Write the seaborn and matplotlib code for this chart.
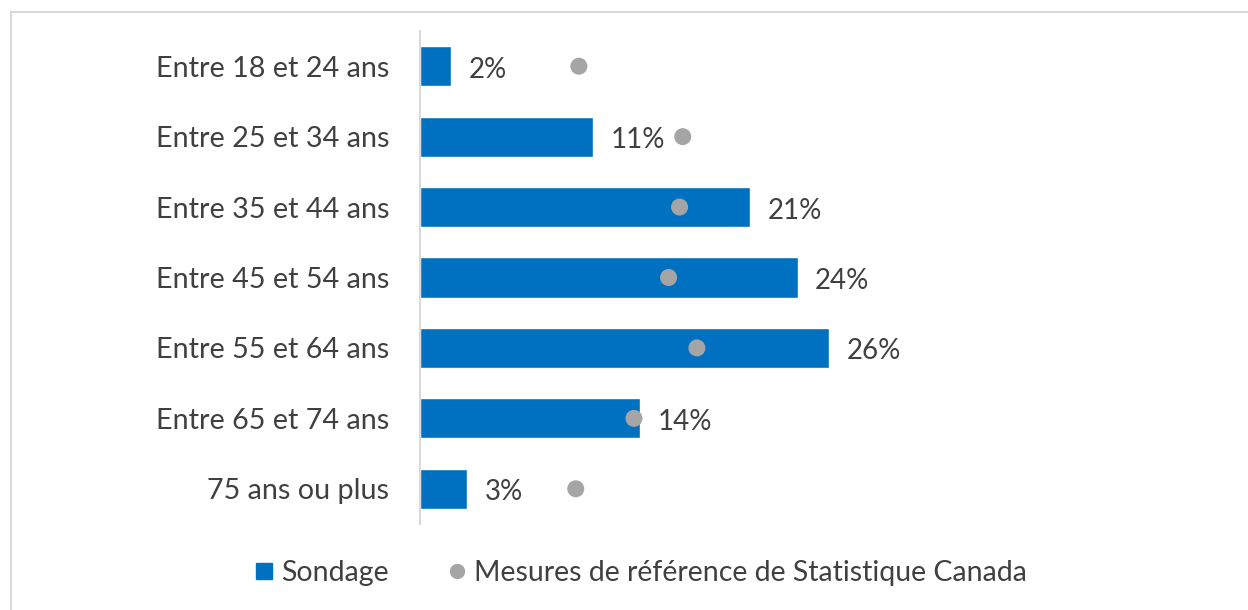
import pandas as pd
import matplotlib
matplotlib.use("Agg")
import matplotlib.pyplot as plt
from matplotlib.lines import Line2D
from matplotlib.patches import Rectangle
import seaborn as sns

# Données
groupes = ["Entre 18 et 24 ans", "Entre 25 et 34 ans", "Entre 35 et 44 ans",
           "Entre 45 et 54 ans", "Entre 55 et 64 ans", "Entre 65 et 74 ans",
           "75 ans ou plus"]
sondage = [2, 11, 21, 24, 26, 14, 3]
statcan = [10.1, 16.7, 16.5, 15.8, 17.6, 13.6, 9.9]

df = pd.DataFrame({"groupe": groupes, "sondage": sondage, "statcan": statcan})

bleu = "#0070C0"
gris = "#A5A5A5"
texte = "#404040"

sns.set_style("white")
plt.rcParams["font.family"] = ["Lato", "DejaVu Sans"]

fig = plt.figure(figsize=(12.48, 6.10), dpi=100)
ax = fig.add_axes([420 / 1248, 1 - 524 / 610, 472 / 1248, (524 - 31) / 610])

sns.barplot(data=df, y="groupe", x="sondage", orient="h", color=bleu,
            width=0.57, saturation=1, ax=ax)
sns.scatterplot(data=df, y="groupe", x="statcan", color=gris, s=150,
                edgecolor="none", ax=ax, zorder=3)

for i, v in enumerate(sondage):
    ax.text(v + 1.1, i + 0.05, f"{v}%", va="center", ha="left",
            fontsize=20, color=texte, clip_on=False)

ax.set_xlim(0, 30)
ax.set_ylim(len(groupes) - 0.5, -0.5)
ax.set_xlabel("")
ax.set_ylabel("")
ax.set_xticks([])
ax.tick_params(axis="y", length=0, pad=22, labelsize=20.7, labelcolor=texte)
for s in ["top", "right", "bottom"]:
    ax.spines[s].set_visible(False)
ax.spines["left"].set_color("#D9D9D9")
ax.spines["left"].set_linewidth(1.5)

# Cadre de la zone de graphique
fig.add_artist(Rectangle((11 / 1248, -0.1), 1.2, 1 - 12 / 610 + 0.1,
                         transform=fig.transFigure, fill=False,
                         edgecolor="#D9D9D9", linewidth=1.5))

poignees = [
    Line2D([], [], marker="s", linestyle="", color=bleu, markersize=12),
    Line2D([], [], marker="o", linestyle="", color=gris, markersize=10),
]
fig.legend(poignees, ["Sondage", "Mesures de référence de Statistique Canada"],
           loc="center", bbox_to_anchor=(638 / 1248, 1 - 573 / 610), ncol=2,
           frameon=False, fontsize=20.5, labelcolor=texte, handletextpad=0.1,
           columnspacing=1.9, handlelength=1.0)

fig.savefig("out.png", dpi=100)
